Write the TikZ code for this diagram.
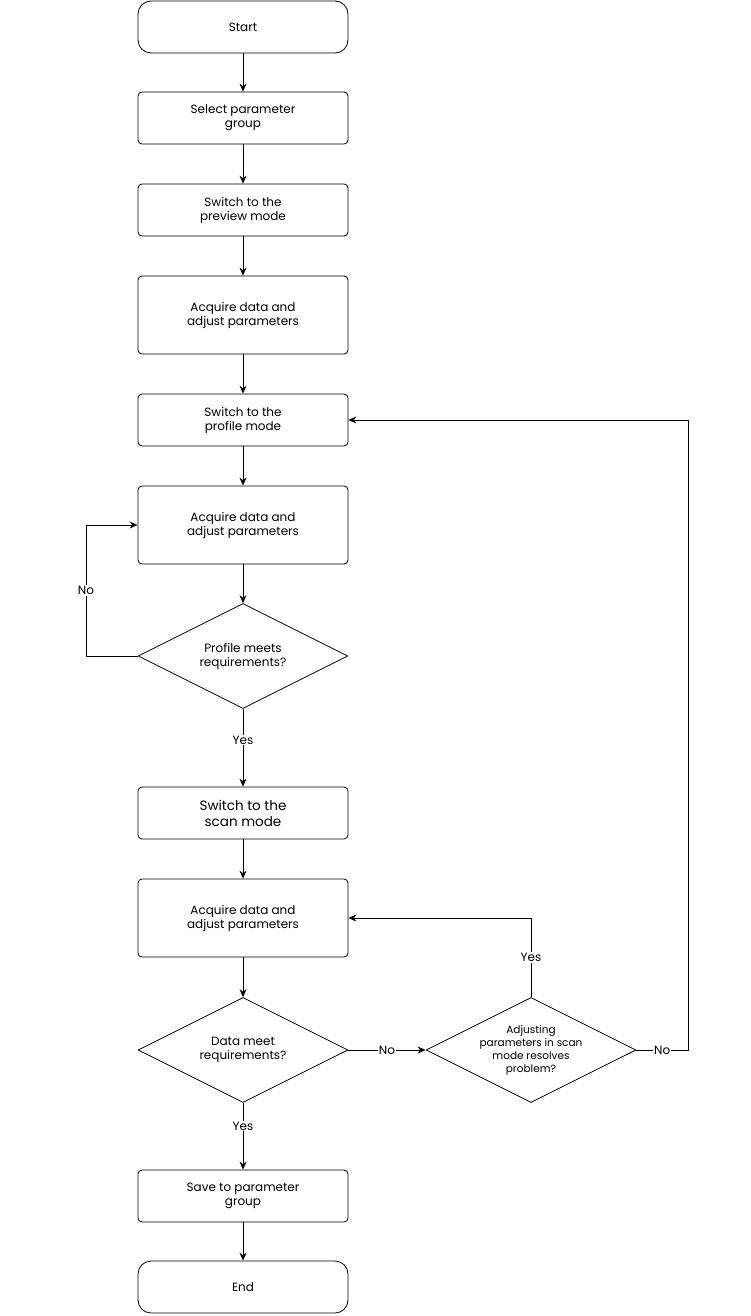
\documentclass[tikz,border=0pt]{standalone}
\usepackage{fontspec}
\setmainfont{Poppins}
\usetikzlibrary{shapes.geometric,arrows.meta}

\tikzset{
  base/.style={draw, thick, align=center, font=\fontsize{12}{14}\selectfont, inner sep=1pt},
  term/.style={base, rounded corners=13pt, minimum width=210pt, minimum height=52pt},
  proc/.style={base, rounded corners=4pt, minimum width=210pt, minimum height=52pt},
  tall/.style={proc, minimum height=78pt},
  test/.style={base, diamond, aspect=2, minimum width=210pt, minimum height=105pt, inner sep=0pt},
  lbl/.style={fill=white, inner sep=1pt, font=\fontsize{12}{14}\selectfont},
  flow/.style={thick, -{Stealth[length=8pt,width=7pt]}}
}

\begin{document}
\begin{tikzpicture}[x=1pt,y=-1pt]
  \useasboundingbox (0,0) rectangle (750,1316);
  \node[term] (start) at (243,27) {Start};
  \node[proc] (select) at (243,118) {Select parameter\\group};
  \node[proc] (preview) at (243,210) {Switch to the\\preview mode};
  \node[tall] (acq1) at (243,315) {Acquire data and\\adjust parameters};
  \node[proc] (profile) at (243,420) {Switch to the\\profile mode};
  \node[tall] (acq2) at (243,525) {Acquire data and\\adjust parameters};
  \node[test] (pmeet) at (243,656) {Profile meets\\requirements?};
  \node[proc, font=\fontsize{13.5}{16}\selectfont] (scan) at (243,813) {Switch to the\\scan mode};
  \node[tall] (acq3) at (243,918) {Acquire data and\\adjust parameters};
  \node[test] (dmeet) at (243,1050) {Data meet\\requirements?};
  \node[test, font=\fontsize{10.5}{13}\selectfont] (resolve) at (531,1050) {Adjusting\\parameters in scan\\mode resolves\\problem?};
  \node[proc] (save) at (243,1196) {Save to parameter\\group};
  \node[term] (end) at (243,1287) {End};

  \coordinate (nl) at (86,656);
  \coordinate (nr) at (688,1050);

  \draw[flow] (start) -- (select);
  \draw[flow] (select) -- (preview);
  \draw[flow] (preview) -- (acq1);
  \draw[flow] (acq1) -- (profile);
  \draw[flow] (profile) -- (acq2);
  \draw[flow] (acq2) -- (pmeet);
  \draw[flow] (pmeet) -- node[lbl, pos=0.4] {Yes} (scan);
  \draw[flow] (scan) -- (acq3);
  \draw[flow] (acq3) -- (dmeet);
  \draw[flow] (dmeet) -- node[lbl, pos=0.35] {Yes} (save);
  \draw[flow] (save) -- (end);
  % loops
  \draw[flow] (pmeet.west) -- (nl) -- node[lbl] {No} (nl |- acq2) -- (acq2.west);
  \draw[flow] (dmeet.east) -- node[lbl, pos=0.5] {No} (resolve.west);
  \draw[flow] (resolve.north) -- node[lbl] {Yes} (resolve.north |- acq3) -- (acq3.east);
  \draw[flow] (resolve.east) -- node[lbl, pos=0.5] {No} (nr) -- (nr |- profile) -- (profile.east);
\end{tikzpicture}
\end{document}
